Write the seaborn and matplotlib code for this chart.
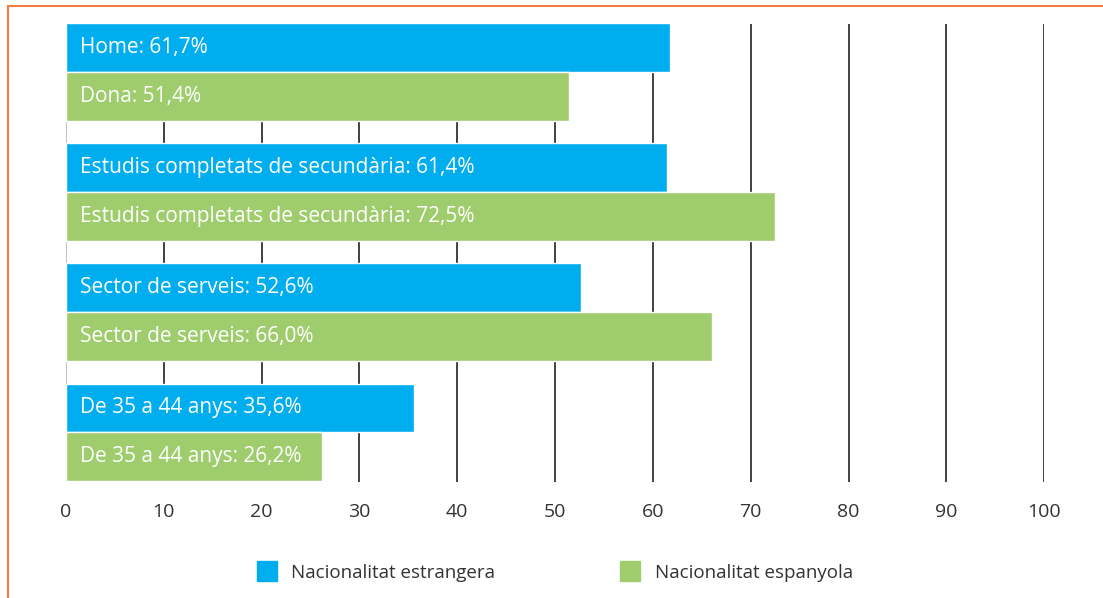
import pandas as pd
import matplotlib.pyplot as plt
import seaborn as sns
from matplotlib.lines import Line2D

# data
groups = ['Sexe', 'Estudis', 'Sector', 'Edat']
series = ['Nacionalitat estrangera', 'Nacionalitat espanyola']
foreign_values = [61.7, 61.4, 52.6, 35.6]
spanish_values = [51.4, 72.5, 66.0, 26.2]
foreign_labels = ['Home', 'Estudis completats de secundària', 'Sector de serveis', 'De 35 a 44 anys']
spanish_labels = ['Dona', 'Estudis completats de secundària', 'Sector de serveis', 'De 35 a 44 anys']
x_ticks = [0, 10, 20, 30, 40, 50, 60, 70, 80, 90, 100]

colors = ['#00AEEF', '#9FCD6E']

df = pd.DataFrame({
    'group': groups * 2,
    'series': [series[0]] * 4 + [series[1]] * 4,
    'value': foreign_values + spanish_values,
})

sns.set_style('white')
plt.rcParams['font.family'] = ['Open Sans', 'DejaVu Sans']

fig = plt.figure(figsize=(11.03, 5.98), dpi=100)
ax = fig.add_axes([0.0598, 0.194, 0.887, 0.766])

sns.barplot(data=df, y='group', x='value', hue='series', orient='h',
            palette=colors, width=0.81, saturation=1, legend=False,
            edgecolor='white', linewidth=1, ax=ax, zorder=3)

# bar labels inside bars
for container, names, vals in zip(ax.containers, [foreign_labels, spanish_labels],
                                  [foreign_values, spanish_values]):
    for patch, name, v in zip(container.patches, names, vals):
        txt = f"{name}: {v:.1f}%".replace('.', ',')
        ax.text(1.4, patch.get_y() + patch.get_height() / 2, txt,
                color='white', fontsize=15, va='center', ha='left', zorder=4)

ax.set_xlim(0, 100)
ax.set_ylim(3.415, -0.4)
ax.set_xticks(x_ticks)
ax.set_xticklabels([str(t) for t in x_ticks], fontsize=14, color='#333333')
ax.set_yticks([])
ax.set_xlabel('')
ax.set_ylabel('')
ax.tick_params(axis='x', length=0, pad=15)
for s in ax.spines.values():
    s.set_visible(False)
for t in x_ticks:
    ax.axvline(t, color='#333333' if t else '#bbbbbb', lw=1.3, zorder=1)

# legend
handles = [Line2D([], [], marker='s', ls='', markersize=15, color=c) for c in colors]
fig.legend(handles, series, loc='center', bbox_to_anchor=(0.499, 0.042), ncol=2,
           frameon=False, fontsize=13.5, handletextpad=0.3, columnspacing=6.2,
           labelcolor='#333333')

# orange frame on the top and left
fig.add_artist(Line2D([8 / 1103, 8 / 1103], [0, 1 - 6 / 598], color='#F47B3F', lw=1.5))
fig.add_artist(Line2D([8 / 1103, 1], [1 - 6 / 598, 1 - 6 / 598], color='#F47B3F', lw=1.5))

fig.savefig('out.png', dpi=100)
